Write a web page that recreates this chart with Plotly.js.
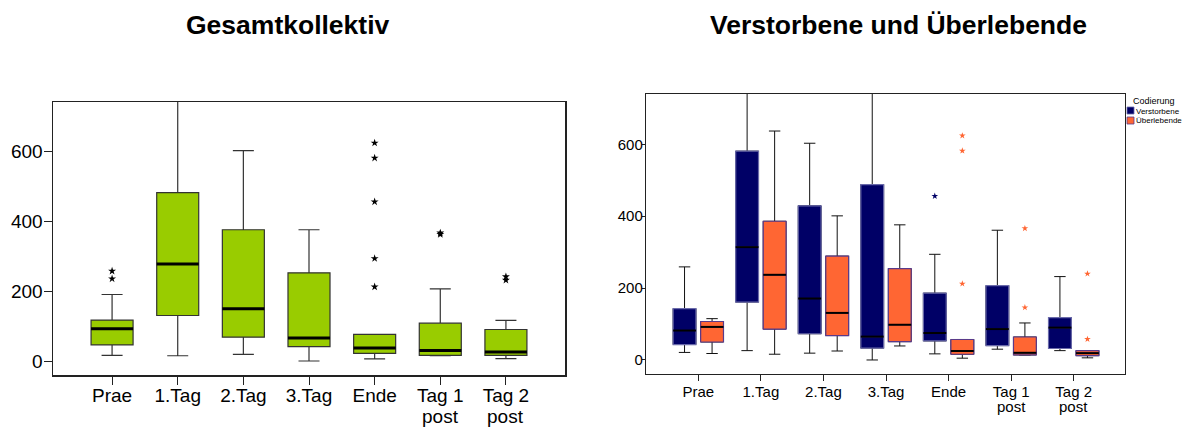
<!DOCTYPE html>
<html>
<head>
<meta charset="utf-8">
<script src="https://cdn.plot.ly/plotly-3.0.1.min.js"></script>
<style>html,body{margin:0;padding:0;background:#fff;}#chart{width:1187px;height:428px;}</style>
</head>
<body>
<div id="chart"></div>
<script>
// ---- data ----
const categories = ['Prae', '1.Tag', '2.Tag', '3.Tag', 'Ende', 'Tag 1<br>post', 'Tag 2<br>post'];
const catIndex = [0, 1, 2, 3, 4, 5, 6];

// Gesamtkollektiv
const gesLow  = [16, 15, 19, 0, 6, 15, 7];
const gesQ1   = [46, 130, 68, 41, 22, 16, 16];
const gesMed  = [92, 277, 149, 66, 37, 30, 26];
const gesQ3   = [117, 481, 375, 252, 76, 108, 90];
const gesHigh = [190, 760, 601, 375, 76, 206, 116];
const gesOutCat = [0, 0, 4, 4, 4, 4, 4, 5, 5, 6, 6];
const gesOutVal = [257, 235, 623, 580, 455, 293, 212, 362, 366, 241, 231];

// Verstorbene
const verLow  = [21, 26, 19, 0, 17, 30, 26];
const verQ1   = [43, 161, 73, 33, 53, 40, 32];
const verMed  = [82, 314, 171, 65, 75, 86, 90];
const verQ3   = [143, 581, 429, 488, 186, 207, 118];
const verHigh = [259, 760, 603, 760, 294, 361, 232];
const verOutCat = [4];
const verOutVal = [456];

// Überlebende
const uebLow  = [18, 16, 25, 39, 5, 14, 6];
const uebQ1   = [50, 86, 68, 51, 16, 14, 12];
const uebMed  = [92, 237, 131, 98, 25, 20, 19];
const uebQ3   = [107, 386, 289, 254, 57, 64, 26];
const uebHigh = [115, 637, 401, 376, 57, 103, 26];
const uebOutCat = [4, 4, 4, 5, 5, 6, 6];
const uebOutVal = [624, 582, 212, 366, 146, 240, 58];

const yTicks = [0, 200, 400, 600];

// ---- styling ----
const W = 1187, H = 428;
const FONT = 'Liberation Sans, Arial, sans-serif';
const green = '#99CC00', navy = '#000066', orange = '#FF6633';
const leftW = 0.64, rightW = 0.365, rightOff = 0.22;

function px(x) { return x / W; }
function py(y) { return 1 - y / H; }
function shift(arr, d) { return arr.map(v => v + d); }
function medianSegs(xs, meds, half) {
  const x = [], y = [];
  xs.forEach((c, i) => { x.push(c - half, c + half, null); y.push(meds[i], meds[i], null); });
  return {x, y};
}
// first line of each category label is the tick label, the second line is set beneath it
const tickFirst = categories.map(c => c.split('<br>')[0]);
const tickSecond = categories.map(c => c.split('<br>')[1] || '');

const traces = [];

// Left: Gesamtkollektiv
traces.push({
  type: 'box', xaxis: 'x', yaxis: 'y', x: catIndex,
  q1: gesQ1, median: gesMed, q3: gesQ3, lowerfence: gesLow, upperfence: gesHigh,
  width: leftW, whiskerwidth: 0.5, boxpoints: false,
  fillcolor: green, line: {color: '#333', width: 1.2}, hoverinfo: 'skip', showlegend: false
});
const gm = medianSegs(catIndex, gesMed, leftW / 2);
traces.push({type: 'scatter', mode: 'lines', xaxis: 'x', yaxis: 'y', x: gm.x, y: gm.y,
  line: {color: '#000', width: 3}, hoverinfo: 'skip', showlegend: false});
traces.push({type: 'scatter', mode: 'markers', xaxis: 'x', yaxis: 'y', x: gesOutCat, y: gesOutVal,
  marker: {symbol: 'star', size: 6, color: '#000'}, hoverinfo: 'skip', showlegend: false});

// Right: grouped
function groupTraces(off, low, q1, med, q3, high, fill, border, outCat, outVal) {
  const xs = shift(catIndex, off);
  traces.push({
    type: 'box', xaxis: 'x2', yaxis: 'y2', x: xs,
    q1: q1, median: med, q3: q3, lowerfence: low, upperfence: high,
    width: rightW, whiskerwidth: 0.5, boxpoints: false,
    fillcolor: fill, line: {color: '#111', width: 1}, hoverinfo: 'skip', showlegend: false
  });
  traces.push({
    type: 'box', xaxis: 'x2', yaxis: 'y2', x: xs,
    q1: q1, median: med, q3: q3, lowerfence: q1, upperfence: q3,
    width: rightW, whiskerwidth: 0, boxpoints: false,
    fillcolor: fill, line: {color: border, width: 1.2}, hoverinfo: 'skip', showlegend: false
  });
  const m = medianSegs(xs, med, rightW / 2);
  traces.push({type: 'scatter', mode: 'lines', xaxis: 'x2', yaxis: 'y2', x: m.x, y: m.y,
    line: {color: '#000', width: 2}, hoverinfo: 'skip', showlegend: false});
  traces.push({type: 'scatter', mode: 'markers', xaxis: 'x2', yaxis: 'y2',
    x: shift(outCat, off), y: outVal,
    marker: {symbol: 'star', size: 5, color: fill}, hoverinfo: 'skip', showlegend: false});
}
groupTraces(-rightOff, verLow, verQ1, verMed, verQ3, verHigh, navy, '#6a6aaa', verOutCat, verOutVal);
groupTraces(rightOff, uebLow, uebQ1, uebMed, uebQ3, uebHigh, orange, '#5a3a8a', uebOutCat, uebOutVal);

const axBase = {showline: true, mirror: true, linecolor: '#222', showgrid: false, zeroline: false, ticks: 'outside', tickcolor: '#222', fixedrange: true};

const annotations = [
  {text: '<b>Gesamtkollektiv</b>', xref: 'paper', yref: 'paper', x: px(288), y: py(25),
   xanchor: 'center', yanchor: 'middle', showarrow: false, font: {size: 26.5, family: FONT, color: '#000'}},
  {text: '<b>Verstorbene und Überlebende</b>', xref: 'paper', yref: 'paper', x: px(898), y: py(25),
   xanchor: 'center', yanchor: 'middle', showarrow: false, font: {size: 26.5, family: FONT, color: '#000'}},
  {text: 'Codierung', xref: 'paper', yref: 'paper', x: px(1131), y: py(101),
   xanchor: 'left', yanchor: 'middle', showarrow: false, font: {size: 9, family: FONT, color: '#000'}},
  {text: 'Verstorbene', xref: 'paper', yref: 'paper', x: px(1134), y: py(111),
   xanchor: 'left', yanchor: 'middle', showarrow: false, font: {size: 8, family: FONT, color: '#000'}},
  {text: 'Überlebende', xref: 'paper', yref: 'paper', x: px(1134), y: py(120.5),
   xanchor: 'left', yanchor: 'middle', showarrow: false, font: {size: 8, family: FONT, color: '#000'}}
];
catIndex.forEach((c, i) => {
  if (!tickSecond[i]) return;
  annotations.push({text: tickSecond[i], xref: 'x', yref: 'paper', x: c, y: py(416),
    xanchor: 'center', yanchor: 'middle', showarrow: false, font: {size: 19, family: FONT, color: '#000'}});
  annotations.push({text: tickSecond[i], xref: 'x2', yref: 'paper', x: c, y: py(406),
    xanchor: 'center', yanchor: 'middle', showarrow: false, font: {size: 15, family: FONT, color: '#000'}});
});

const layout = {
  width: W, height: H,
  margin: {l: 0, r: 0, t: 0, b: 0},
  paper_bgcolor: '#fff', plot_bgcolor: '#fff',
  font: {family: FONT, color: '#000'},
  showlegend: false,
  xaxis: Object.assign({}, axBase, {
    domain: [px(53), px(565)], range: [-0.9, 6.9], anchor: 'y',
    tickvals: catIndex, ticktext: tickFirst, ticklen: 8, linewidth: 1.5, ticklabelstandoff: -5,
    tickfont: {size: 19, family: FONT, color: '#000'}
  }),
  yaxis: Object.assign({}, axBase, {
    domain: [py(375), py(102)], range: [-40, 740], anchor: 'x',
    tickvals: yTicks, ticklen: 8, linewidth: 1.5, ticklabelstandoff: -3,
    tickfont: {size: 19, family: FONT, color: '#000'}
  }),
  xaxis2: Object.assign({}, axBase, {
    domain: [px(646), px(1125)], range: [-0.836, 6.82], anchor: 'y2',
    tickvals: catIndex, ticktext: tickFirst, ticklen: 6, linewidth: 1.2, ticklabelstandoff: -2,
    tickfont: {size: 15, family: FONT, color: '#000'}
  }),
  yaxis2: Object.assign({}, axBase, {
    domain: [py(374), py(94)], range: [-39, 740], anchor: 'x2',
    tickvals: yTicks, ticklen: 3, linewidth: 1.2, ticklabelstandoff: -4,
    tickfont: {size: 15, family: FONT, color: '#000'}
  }),
  annotations: annotations,
  shapes: [
    {type: 'rect', xref: 'paper', yref: 'paper', x0: px(1127), x1: px(1134), y0: py(114), y1: py(107),
     fillcolor: navy, line: {color: '#6a6aaa', width: 0.8}},
    {type: 'rect', xref: 'paper', yref: 'paper', x0: px(1127), x1: px(1134), y0: py(124), y1: py(117),
     fillcolor: orange, line: {color: '#5a3a8a', width: 0.8}}
  ]
};

Plotly.newPlot('chart', traces, layout, {staticPlot: true, displayModeBar: false});
</script>
</body>
</html>
